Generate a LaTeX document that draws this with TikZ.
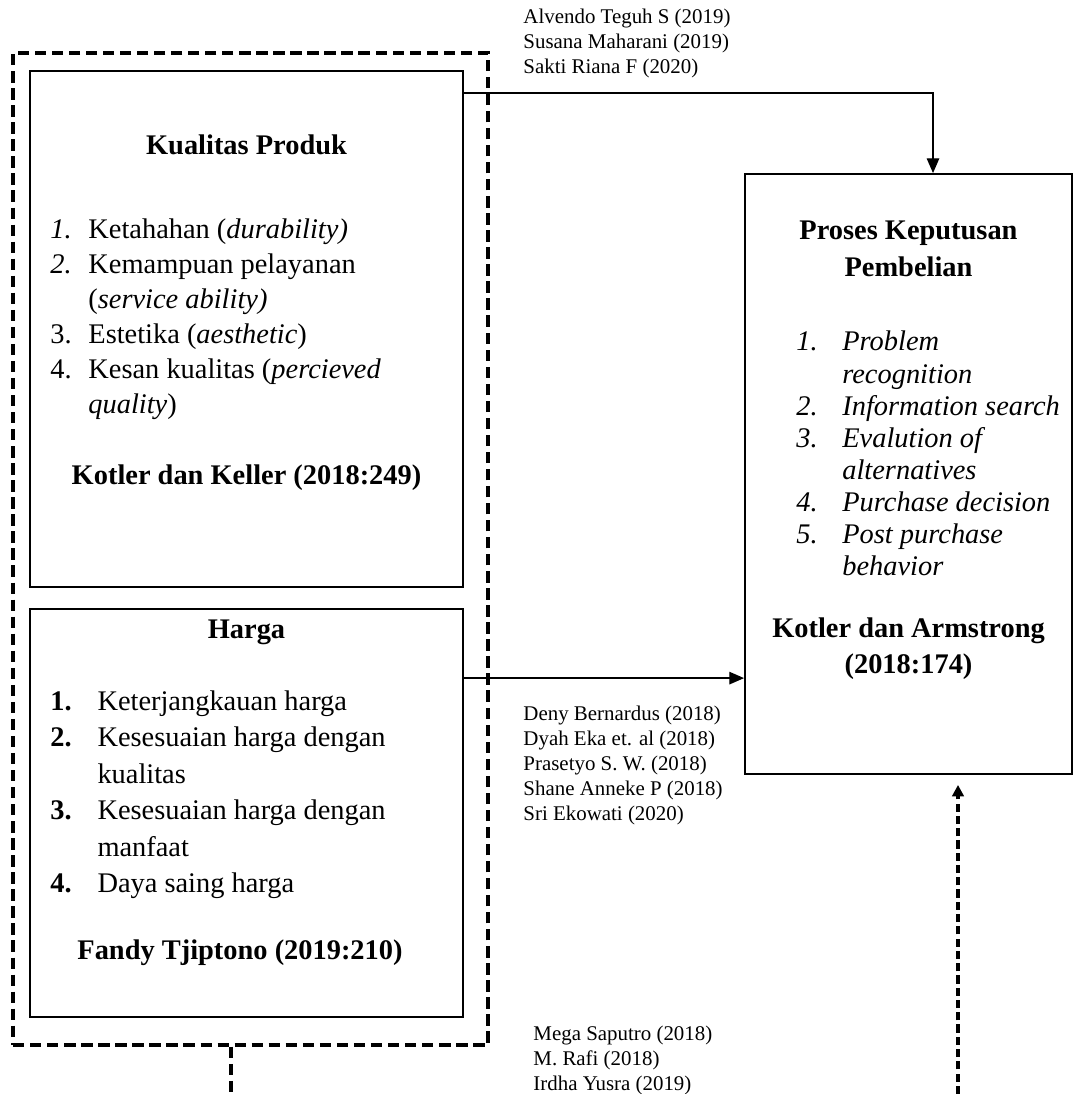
\documentclass[tikz,border=0pt]{standalone}
\usepackage{fontspec}
\setmainfont{Liberation Serif}
\usepackage{tikz}
\usetikzlibrary{
  arrows.meta,
  positioning,
  calc
}
\tikzset{
  varbox/.style={
    rectangle, draw=black, line width=0.8pt, inner sep=0pt
  },
  groupbox/.style={
    rectangle, draw=black, line width=1.5pt, inner sep=0pt,
    dash pattern=on 5pt off 2.5pt
  },
  groupline/.style={
    draw=black, line width=1.5pt, dash pattern=on 5pt off 2.5pt
  },
  titletext/.style={
    anchor=base, inner sep=0pt, font=\bfseries\fontsize{12.5}{16}\selectfont
  },
  itemlist/.style={
    anchor=base west, inner sep=0pt, font=\fontsize{12.5}{#1}\selectfont
  },
  refnote/.style={
    anchor=base west, inner sep=0pt, font=\fontsize{9.2}{11}\selectfont
  },
  arrowstyle/.style={
    -{Triangle[length=6.5pt,width=5.5pt]}, line width=0.6pt, color=black
  },
  dasharrow/.style={
    -{Triangle[length=5pt,width=5pt]}, line width=1.6pt, color=black,
    dash pattern=on 3.6pt off 1.8pt
  },
}

\begin{document}
\begin{tikzpicture}[x=0.44pt, y=-0.44pt]
  \useasboundingbox (0,0) rectangle (1075,1094);

  % boxes
  \node[groupbox, minimum width=209pt, minimum height=436.5pt] (group) at (250.5,549) {};
  \node[varbox, minimum width=190.5pt, minimum height=227pt] (kualitas) at (246.5,329) {};
  \node[varbox, minimum width=190.5pt, minimum height=179.5pt] (harga) at (246.5,813) {};
  \node[varbox, minimum width=143.9pt, minimum height=264pt] (proses) at (908.5,474) {};

  % Kualitas Produk
  \node[titletext] (kualitasT) at (246.5,155) {Kualitas Produk};
  \node[itemlist=15.4pt] (kualitasL) at (50,239) {%
    \begin{tabular}[t]{@{}p{16.7pt}@{}l@{}}
      \textit{1.} & Ketahahan (\textit{durability)}\\
      \textit{2.} & Kemampuan pelayanan\\
                  & (\textit{service ability)}\\
      3.          & Estetika (\textit{aesthetic})\\
      4.          & Kesan kualitas (\textit{percieved}\\
                  & \textit{quality})
    \end{tabular}};
  \node[titletext] (kualitasS) at (246.5,484) {Kotler dan Keller (2018:249)};

  % Harga
  \node[titletext] (hargaT) at (246.5,638) {Harga};
  \node[itemlist=16.1pt] (hargaL) at (50,710) {%
    \begin{tabular}[t]{@{}p{20.7pt}@{}l@{}}
      \textbf{1.} & Keterjangkauan harga\\
      \textbf{2.} & Kesesuaian harga dengan\\
                  & kualitas\\
      \textbf{3.} & Kesesuaian harga dengan\\
                  & manfaat\\
      \textbf{4.} & Daya saing harga
    \end{tabular}};
  \node[titletext] (hargaS) at (240,959) {Fandy Tjiptono (2019:210)};

  % Proses Keputusan Pembelian
  \node[titletext] (prosesT) at (908.5,240) {%
    \begin{tabular}[t]{@{}c@{}}Proses Keputusan\\Pembelian\end{tabular}};
  \node[itemlist=14.1pt] (prosesL) at (796,351) {%
    \itshape
    \begin{tabular}[t]{@{}p{20.2pt}@{}l@{}}
      1. & Problem\\
         & recognition\\
      2. & Information search\\
      3. & Evalution of\\
         & alternatives\\
      4. & Purchase decision\\
      5. & Post purchase\\
         & behavior
    \end{tabular}};
  \node[titletext] (prosesS) at (908.5,637) {%
    \begin{tabular}[t]{@{}c@{}}Kotler dan Armstrong\\(2018:174)\end{tabular}};

  % references
  \node[refnote] (refKP) at (523,24) {%
    \begin{tabular}[t]{@{}l@{}}
      Alvendo Teguh S (2019)\\
      Susana Maharani (2019)\\
      Sakti Riana F (2020)
    \end{tabular}};
  \node[refnote] (refH) at (523,720) {%
    \begin{tabular}[t]{@{}l@{}}
      Deny Bernardus (2018)\\
      Dyah Eka et. al (2018)\\
      Prasetyo S. W. (2018)\\
      Shane Anneke P (2018)\\
      Sri Ekowati (2020)
    \end{tabular}};
  \node[refnote] (refMed) at (533,1040) {%
    \begin{tabular}[t]{@{}l@{}}
      Mega Saputro (2018)\\
      M. Rafi (2018)\\
      Irdha Yusra (2019)
    \end{tabular}};

  % connectors
  \draw[arrowstyle] ($(kualitas.north east)+(0,23)$) -| ($(proses.north)+(24.5,0)$);
  \draw[arrowstyle] ($(harga.north east)+(0,70)$) coordinate (hargaout) -- (hargaout -| proses.west);
  \coordinate (groupend) at (231,1094);
  \draw[groupline] (groupend |- group.south) -- (groupend);
  \coordinate (medend) at (958,1094);
  \draw[dasharrow] (medend) -- ($(medend |- proses.south)+(0,10)$);
\end{tikzpicture}
\end{document}
